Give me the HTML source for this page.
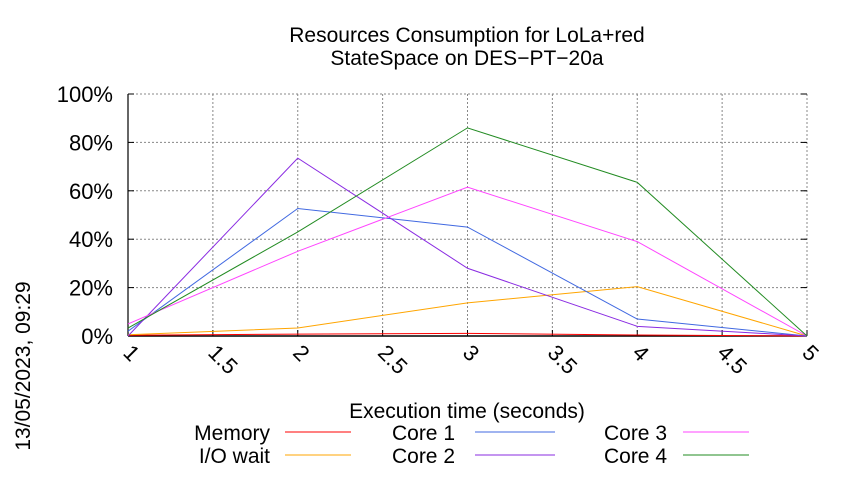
<!DOCTYPE html>
<html><head><meta charset="utf-8"><style>
body{margin:0;background:#fff}
svg{font-family:"Liberation Sans",sans-serif}
</style></head><body>
<svg width="850" height="475" xmlns="http://www.w3.org/2000/svg">
<text x="467" y="42" font-size="21" text-anchor="middle">Resources Consumption for LoLa+red</text>
<text x="467" y="65" font-size="21" text-anchor="middle">StateSpace on DES−PT−20a</text>
<g id="grid"></g>
<g id="axes"></g>
<g id="series"></g>
<text x="467" y="418" font-size="21" text-anchor="middle">Execution time (seconds)</text>
<text transform="translate(30,366) rotate(-90)" font-size="21" text-anchor="middle">13/05/2023, 09:29</text>
<g id="legend"></g>
</svg>
<script>
const xTicks=[1,1.5,2,2.5,3,3.5,4,4.5,5];
const yTicks=[0,20,40,60,80,100];
const times=[1,2,3,4,5];
const seriesNames=["Memory","I/O wait","Core 1","Core 2","Core 3","Core 4"];
const seriesColors=["#ff0000","#ffa500","#4169e1","#8a2be2","#ff44ff","#228b22"];
const memory=[0.3,0.8,1.1,0.4,0];
const ioWait=[0.5,3.3,13.7,20.4,0];
const core1=[2,52.7,45,7,0];
const core2=[0,73.5,28,4,0];
const core3=[5,35,61.5,39,0];
const core4=[3.3,43,86,63.5,0];
const allSeries=[memory,ioWait,core1,core2,core3,core4];
const L=128,R=807,T=94,B=336;
const sx=v=>L+(v-1)/4*(R-L);
const sy=v=>B-v/100*(B-T);
const NS="http://www.w3.org/2000/svg";
function mk(tag,attrs,parent,txt){const e=document.createElementNS(NS,tag);for(const k in attrs)e.setAttribute(k,attrs[k]);if(txt!==undefined)e.textContent=txt;parent.appendChild(e);return e;}
const grid=document.getElementById('grid'),axes=document.getElementById('axes'),ser=document.getElementById('series'),leg=document.getElementById('legend');
xTicks.forEach(t=>{
 const l=mk('line',{x1:sx(t),x2:sx(t),y1:T,y2:B,stroke:'#888','stroke-dasharray':'2,2','stroke-width':1},grid);
 
 
 const tk=mk('line',{x1:sx(t),x2:sx(t),y1:B,y2:B-6,stroke:'#000'},axes);
 
 
 const tx=mk('text',{transform:`translate(${sx(t)-6},${B+18}) rotate(45)`,'font-size':22},axes,String(t));
 
 
});
yTicks.forEach(t=>{
 const l=mk('line',{x1:L,x2:R,y1:sy(t),y2:sy(t),stroke:'#888','stroke-dasharray':'2,2','stroke-width':1},grid);
 
 
 const tk=mk('line',{x1:L,x2:L+6,y1:sy(t),y2:sy(t),stroke:'#000'},axes);
 
 
 const tk2=mk('line',{x1:R,x2:R-6,y1:sy(t),y2:sy(t),stroke:'#000'},axes);
 
 
 const tx=mk('text',{x:L-15,y:sy(t)+8,'font-size':22,'text-anchor':'end'},axes,t+'%');
 
 
});
const ya=mk('line',{x1:L,x2:L,y1:T,y2:B,stroke:'#000','stroke-width':1.2},axes);


const xa=mk('line',{x1:L,x2:R,y1:B,y2:B,stroke:'#000','stroke-width':1.5},axes);


allSeries.forEach((d,i)=>{
 const p=mk('polyline',{points:d.map((v,j)=>sx(times[j])+','+sy(v)).join(' '),fill:'none',stroke:seriesColors[i],'stroke-width':1},ser);
 
 
});
const legPos=[[270,285,440],[270,285,463],[455,475,440],[455,475,463],[667,683,440],[667,683,463]];
seriesNames.forEach((n,i)=>{
 const [tx,lx,ly]=legPos[i];
 const t=mk('text',{x:tx,y:ly,'font-size':21,'text-anchor':'end'},leg,n);
 
 
 const l=mk('line',{x1:lx,x2:lx+(i>=2&&i<4?80:66),y1:ly-8,y2:ly-8,stroke:seriesColors[i],'stroke-width':1},leg);
 
 
});
</script>
</body></html>
